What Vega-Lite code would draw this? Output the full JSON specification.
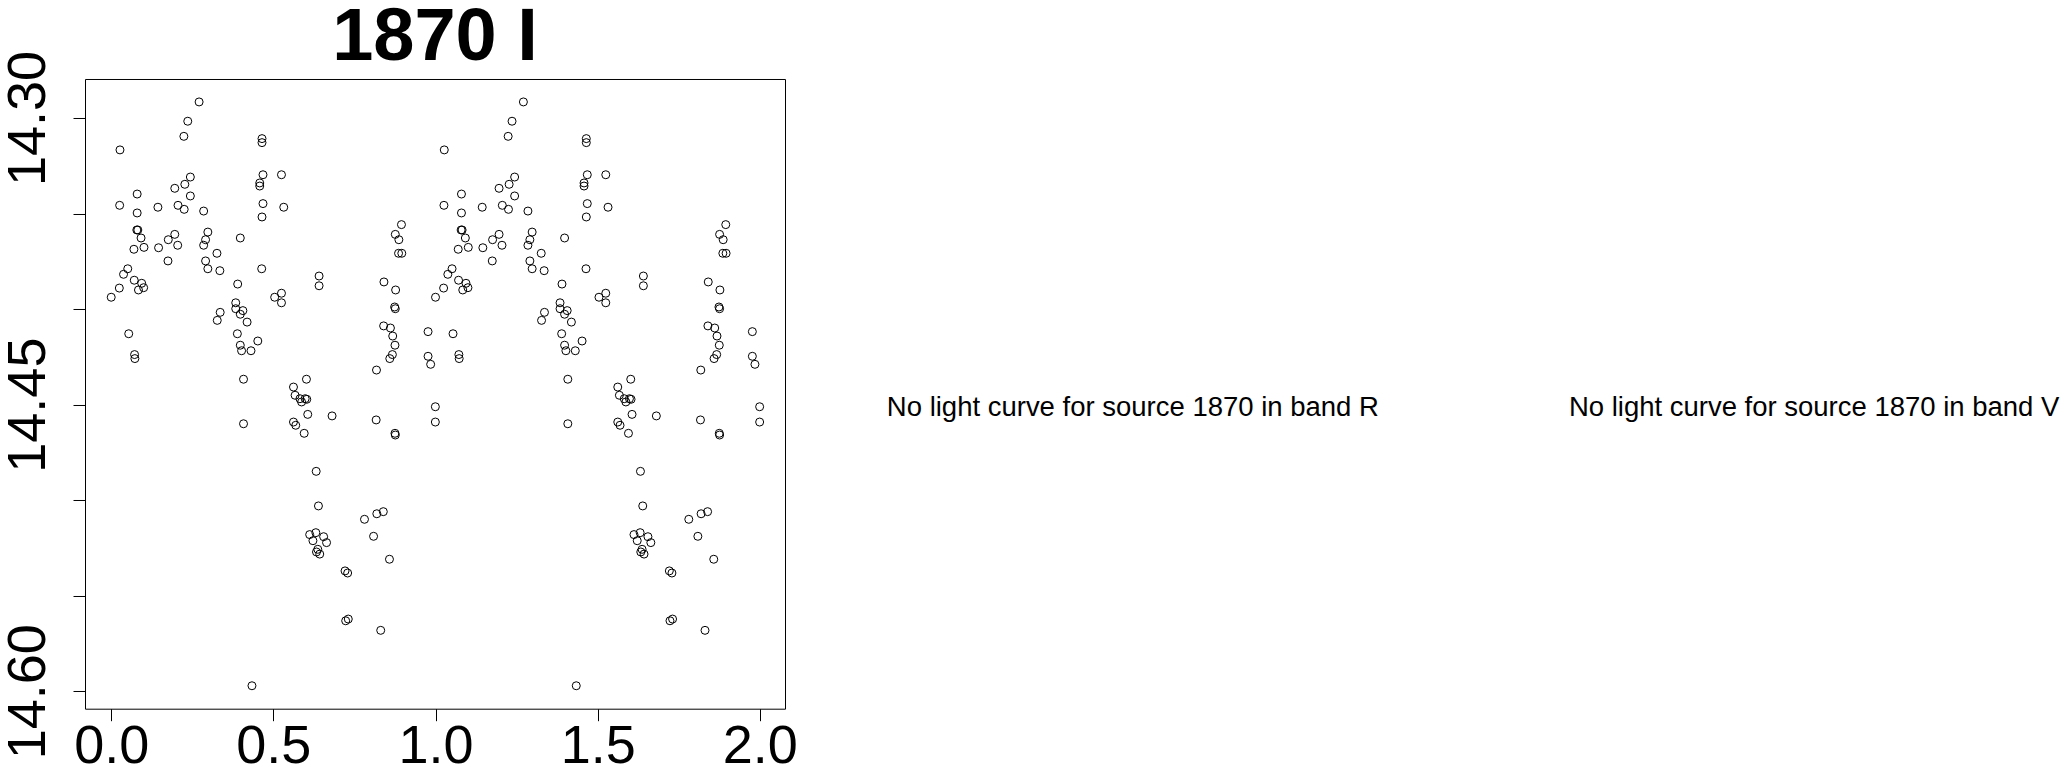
{
  "$schema": "https://vega.github.io/schema/vega-lite/v6.json",
  "background": "white",
  "padding": {"left": 0, "top": 0, "right": 0, "bottom": -7},
  "bounds": "flush",
  "spacing": 98,
  "config": {"view": {"stroke": null}, "font": "Liberation Sans"},
  "hconcat": [
    {
      "width": 700,
      "height": 629.7,
      "view": {"stroke": "black", "strokeWidth": 1},
      "title": {"text": "1870 I", "fontSize": 74, "font": "Liberation Sans", "fontWeight": "bold", "offset": -25.6, "color": "black", "anchor": "middle"},
      "data": {"values": [
        {"p":0.000,"m":14.3938},{"p":0.027,"m":14.3167},{"p":0.026,"m":14.3457},{"p":0.025,"m":14.3890},
        {"p":0.038,"m":14.3818},{"p":0.051,"m":14.3789},{"p":0.054,"m":14.4129},{"p":0.070,"m":14.3687},
        {"p":0.071,"m":14.3849},{"p":0.072,"m":14.4238},{"p":0.073,"m":14.4259},{"p":0.080,"m":14.3398},
        {"p":0.080,"m":14.3497},{"p":0.079,"m":14.3586},{"p":0.082,"m":14.3586},{"p":0.092,"m":14.3628},
        {"p":0.101,"m":14.3677},{"p":0.084,"m":14.3900},{"p":0.094,"m":14.3865},{"p":0.100,"m":14.3888},
        {"p":0.144,"m":14.3467},{"p":0.146,"m":14.3679},{"p":0.175,"m":14.3748},{"p":0.176,"m":14.3637},
        {"p":0.196,"m":14.3609},{"p":0.205,"m":14.3666},{"p":0.196,"m":14.3368},{"p":0.206,"m":14.3457},
        {"p":0.227,"m":14.3347},{"p":0.225,"m":14.3478},{"p":0.224,"m":14.3096},{"p":0.236,"m":14.3017},
        {"p":0.244,"m":14.3309},{"p":0.244,"m":14.3408},{"p":0.271,"m":14.2916},{"p":0.285,"m":14.3487},
        {"p":0.285,"m":14.3666},{"p":0.291,"m":14.3637},{"p":0.298,"m":14.3597},{"p":0.291,"m":14.3748},
        {"p":0.298,"m":14.3789},{"p":0.326,"m":14.3708},{"p":0.335,"m":14.3799},{"p":0.398,"m":14.3628},
        {"p":0.390,"m":14.3869},{"p":0.384,"m":14.3967},{"p":0.384,"m":14.3998},{"p":0.406,"m":14.4008},
        {"p":0.398,"m":14.4027},{"p":0.419,"m":14.4068},{"p":0.336,"m":14.4017},{"p":0.327,"m":14.4059},
        {"p":0.389,"m":14.4129},{"p":0.398,"m":14.4189},{"p":0.402,"m":14.4218},{"p":0.431,"m":14.4218},
        {"p":0.452,"m":14.4167},{"p":0.408,"m":14.4367},{"p":0.465,"m":14.3108},{"p":0.465,"m":14.3129},
        {"p":0.468,"m":14.3297},{"p":0.458,"m":14.3340},{"p":0.458,"m":14.3356},{"p":0.468,"m":14.3448},
        {"p":0.465,"m":14.3518},{"p":0.525,"m":14.3297},{"p":0.532,"m":14.3467},{"p":0.464,"m":14.3789},
        {"p":0.504,"m":14.3938},{"p":0.525,"m":14.3917},{"p":0.525,"m":14.3967},{"p":0.641,"m":14.3827},
        {"p":0.641,"m":14.3878},{"p":0.562,"m":14.4408},{"p":0.602,"m":14.4367},{"p":0.841,"m":14.3858},
        {"p":0.877,"m":14.3900},{"p":0.874,"m":14.3989},{"p":0.876,"m":14.3998},{"p":0.840,"m":14.4088},
        {"p":0.861,"m":14.4099},{"p":0.868,"m":14.4141},{"p":0.875,"m":14.4189},{"p":0.867,"m":14.4238},
        {"p":0.859,"m":14.4259},{"p":0.818,"m":14.4319},{"p":0.876,"m":14.3609},{"p":0.887,"m":14.3637},
        {"p":0.895,"m":14.3558},{"p":0.886,"m":14.3708},{"p":0.896,"m":14.3708},{"p":0.977,"m":14.4118},
        {"p":0.977,"m":14.4247},{"p":0.985,"m":14.4289},{"p":0.567,"m":14.4451},{"p":0.582,"m":14.4469},
        {"p":0.587,"m":14.4486},{"p":0.598,"m":14.4469},{"p":0.603,"m":14.4472},{"p":0.562,"m":14.4591},
        {"p":0.569,"m":14.4608},{"p":0.595,"m":14.4650},{"p":0.606,"m":14.4551},{"p":0.681,"m":14.4559},
        {"p":0.408,"m":14.4600},{"p":0.817,"m":14.4580},{"p":0.875,"m":14.4650},{"p":0.876,"m":14.4659},
        {"p":0.9995,"m":14.4511},{"p":0.9995,"m":14.4591},{"p":0.632,"m":14.4849},{"p":0.639,"m":14.5030},
        {"p":0.781,"m":14.5100},{"p":0.819,"m":14.5071},{"p":0.839,"m":14.5060},{"p":0.809,"m":14.5189},
        {"p":0.858,"m":14.5309},{"p":0.612,"m":14.5180},{"p":0.631,"m":14.5170},{"p":0.655,"m":14.5191},
        {"p":0.622,"m":14.5212},{"p":0.664,"m":14.5222},{"p":0.637,"m":14.5257},{"p":0.633,"m":14.5271},
        {"p":0.643,"m":14.5282},{"p":0.721,"m":14.5370},{"p":0.729,"m":14.5381},{"p":0.723,"m":14.5631},
        {"p":0.731,"m":14.5622},{"p":0.831,"m":14.5681},{"p":0.434,"m":14.5971},

        {"p":1.000,"m":14.3938},{"p":1.027,"m":14.3167},{"p":1.026,"m":14.3457},{"p":1.025,"m":14.3890},
        {"p":1.038,"m":14.3818},{"p":1.051,"m":14.3789},{"p":1.054,"m":14.4129},{"p":1.070,"m":14.3687},
        {"p":1.071,"m":14.3849},{"p":1.072,"m":14.4238},{"p":1.073,"m":14.4259},{"p":1.080,"m":14.3398},
        {"p":1.080,"m":14.3497},{"p":1.079,"m":14.3586},{"p":1.082,"m":14.3586},{"p":1.092,"m":14.3628},
        {"p":1.101,"m":14.3677},{"p":1.084,"m":14.3900},{"p":1.094,"m":14.3865},{"p":1.100,"m":14.3888},
        {"p":1.144,"m":14.3467},{"p":1.146,"m":14.3679},{"p":1.175,"m":14.3748},{"p":1.176,"m":14.3637},
        {"p":1.196,"m":14.3609},{"p":1.205,"m":14.3666},{"p":1.196,"m":14.3368},{"p":1.206,"m":14.3457},
        {"p":1.227,"m":14.3347},{"p":1.225,"m":14.3478},{"p":1.224,"m":14.3096},{"p":1.236,"m":14.3017},
        {"p":1.244,"m":14.3309},{"p":1.244,"m":14.3408},{"p":1.271,"m":14.2916},{"p":1.285,"m":14.3487},
        {"p":1.285,"m":14.3666},{"p":1.291,"m":14.3637},{"p":1.298,"m":14.3597},{"p":1.291,"m":14.3748},
        {"p":1.298,"m":14.3789},{"p":1.326,"m":14.3708},{"p":1.335,"m":14.3799},{"p":1.398,"m":14.3628},
        {"p":1.390,"m":14.3869},{"p":1.384,"m":14.3967},{"p":1.384,"m":14.3998},{"p":1.406,"m":14.4008},
        {"p":1.398,"m":14.4027},{"p":1.419,"m":14.4068},{"p":1.336,"m":14.4017},{"p":1.327,"m":14.4059},
        {"p":1.389,"m":14.4129},{"p":1.398,"m":14.4189},{"p":1.402,"m":14.4218},{"p":1.431,"m":14.4218},
        {"p":1.452,"m":14.4167},{"p":1.408,"m":14.4367},{"p":1.465,"m":14.3108},{"p":1.465,"m":14.3129},
        {"p":1.468,"m":14.3297},{"p":1.458,"m":14.3340},{"p":1.458,"m":14.3356},{"p":1.468,"m":14.3448},
        {"p":1.465,"m":14.3518},{"p":1.525,"m":14.3297},{"p":1.532,"m":14.3467},{"p":1.464,"m":14.3789},
        {"p":1.504,"m":14.3938},{"p":1.525,"m":14.3917},{"p":1.525,"m":14.3967},{"p":1.641,"m":14.3827},
        {"p":1.641,"m":14.3878},{"p":1.562,"m":14.4408},{"p":1.602,"m":14.4367},{"p":1.841,"m":14.3858},
        {"p":1.877,"m":14.3900},{"p":1.874,"m":14.3989},{"p":1.876,"m":14.3998},{"p":1.840,"m":14.4088},
        {"p":1.861,"m":14.4099},{"p":1.868,"m":14.4141},{"p":1.875,"m":14.4189},{"p":1.867,"m":14.4238},
        {"p":1.859,"m":14.4259},{"p":1.818,"m":14.4319},{"p":1.876,"m":14.3609},{"p":1.887,"m":14.3637},
        {"p":1.895,"m":14.3558},{"p":1.886,"m":14.3708},{"p":1.896,"m":14.3708},{"p":1.977,"m":14.4118},
        {"p":1.977,"m":14.4247},{"p":1.985,"m":14.4289},{"p":1.567,"m":14.4451},{"p":1.582,"m":14.4469},
        {"p":1.587,"m":14.4486},{"p":1.598,"m":14.4469},{"p":1.603,"m":14.4472},{"p":1.562,"m":14.4591},
        {"p":1.569,"m":14.4608},{"p":1.595,"m":14.4650},{"p":1.606,"m":14.4551},{"p":1.681,"m":14.4559},
        {"p":1.408,"m":14.4600},{"p":1.817,"m":14.4580},{"p":1.875,"m":14.4650},{"p":1.876,"m":14.4659},
        {"p":1.9995,"m":14.4511},{"p":1.9995,"m":14.4591},{"p":1.632,"m":14.4849},{"p":1.639,"m":14.5030},
        {"p":1.781,"m":14.5100},{"p":1.819,"m":14.5071},{"p":1.839,"m":14.5060},{"p":1.809,"m":14.5189},
        {"p":1.858,"m":14.5309},{"p":1.612,"m":14.5180},{"p":1.631,"m":14.5170},{"p":1.655,"m":14.5191},
        {"p":1.622,"m":14.5212},{"p":1.664,"m":14.5222},{"p":1.637,"m":14.5257},{"p":1.633,"m":14.5271},
        {"p":1.643,"m":14.5282},{"p":1.721,"m":14.5370},{"p":1.729,"m":14.5381},{"p":1.723,"m":14.5631},
        {"p":1.731,"m":14.5622},{"p":1.831,"m":14.5681},{"p":1.434,"m":14.5971}
      ]},
      "mark": {"type": "point", "shape": "circle", "filled": false, "stroke": "black", "strokeWidth": 1, "size": 64, "opacity": 1},
      "encoding": {
        "x": {
          "field": "p", "type": "quantitative",
          "scale": {"domain": [-0.0808, 2.0777], "nice": false, "zero": false},
          "axis": {"title": null, "values": [0, 0.5, 1, 1.5, 2], "format": ".1f", "grid": false, "domain": false,
                   "ticks": true, "tickSize": 12, "tickColor": "black", "tickWidth": 1,
                   "labelFontSize": 54, "labelFont": "Liberation Sans", "labelColor": "black", "labelPadding": -1,
                   "labelFlush": false, "labelOverlap": false, "labelBound": false}
        },
        "y": {
          "field": "m", "type": "quantitative",
          "scale": {"domain": [14.2796, 14.6091], "reverse": true, "nice": false, "zero": false},
          "axis": {"title": null, "values": [14.3, 14.35, 14.4, 14.45, 14.5, 14.55, 14.6], "format": ".2f",
                   "labelExpr": "indexof(['14.30','14.45','14.60'], datum.label) >= 0 ? datum.label : ''",
                   "grid": false, "domain": false, "ticks": true, "tickSize": 12, "tickColor": "black", "tickWidth": 1,
                   "labelFontSize": 54, "labelFont": "Liberation Sans", "labelColor": "black",
                   "labelAngle": 270, "labelAlign": "center", "labelBaseline": "alphabetic", "labelPadding": 28.6,
                   "labelFlush": false, "labelOverlap": false, "labelBound": false}
        }
      }
    },
    {
      "width": 1181,
      "height": 629.7,
      "data": {"values": [
        {"band": "R", "msg": "No light curve for source 1870 in band R"},
        {"band": "V", "msg": "No light curve for source 1870 in band V"}
      ]},
      "mark": {"type": "text", "fontSize": 27.5, "font": "Liberation Sans", "color": "black", "baseline": "top", "align": "center"},
      "encoding": {
        "x": {"field": "band", "type": "nominal", "scale": {"type": "point", "padding": 0.3667}, "axis": null},
        "text": {"field": "msg"}
      }
    }
  ]
}
